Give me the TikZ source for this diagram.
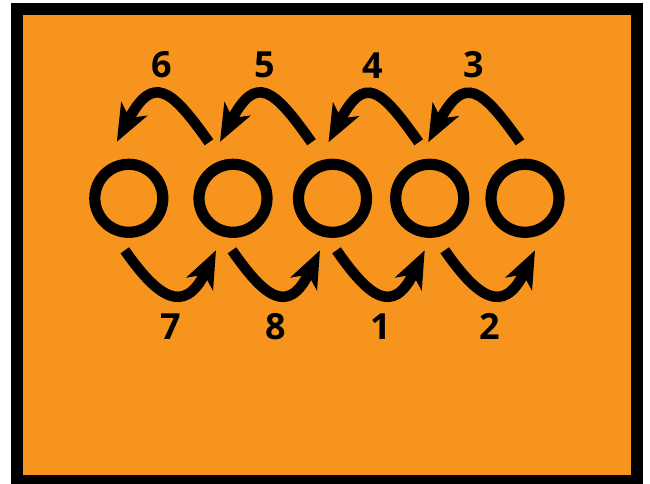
\documentclass[tikz,border=0pt]{standalone}
\usepackage{fontspec}
\setmainfont{Open Sans}
\usetikzlibrary{arrows.meta,calc}
\definecolor{panel}{HTML}{F7941D}
\tikzset{
  ring/.style={circle,draw=black,line width=11.2pt,minimum size=68pt,inner sep=0pt},
  hop/.style={-{Stealth[length=37pt,width=29pt,inset=10pt]},draw=black,line width=10.5pt},
  num/.style={font=\bfseries\fontsize{36}{36}\selectfont,inner sep=0pt},
}

\begin{document}
\begin{tikzpicture}[x=1pt,y=1pt]
\useasboundingbox (0,0) rectangle (650,484);
\draw[line width=12pt,fill=panel] (17,3.3) rectangle (636.5,475);
% the five rings
\node[ring] (c1) at (128.8,285.7) {};
\node[ring] (c2) at (233,285.7) {};
\node[ring] (c3) at (332.5,285.7) {};
\node[ring] (c4) at (429.7,285.7) {};
\node[ring] (c5) at (525,285.7) {};
% hops over the top, right to left
\draw[hop] ($(c5)+(-5,56)$) .. controls +(-38,54) and +(36,68) .. ($(c4)+(-1.5,56)$) node[num,midway,above=13pt] {3};
\draw[hop] ($(c4)+(-11,56)$) .. controls +(-38,54) and +(36,68) .. ($(c3)+(-4,56)$) node[num,midway,above=13pt] {4};
\draw[hop] ($(c3)+(-21,56)$) .. controls +(-38,54) and +(36,68) .. ($(c2)+(-13,56.5)$) node[num,midway,above=13pt] {5};
\draw[hop] ($(c2)+(-24,56)$) .. controls +(-38,54) and +(36,68) .. ($(c1)+(-12,56.5)$) node[num,midway,above=13pt] {6};
% hops underneath, left to right
\draw[hop] ($(c1)+(-4,-52)$) .. controls +(32,-46) and +(-32,-66) .. ($(c2)+(-17,-52)$) node[num,midway,below=16pt] {7};
\draw[hop] ($(c2)+(-1,-52)$) .. controls +(32,-46) and +(-32,-66) .. ($(c3)+(-12.5,-52)$) node[num,midway,below=16pt] {8};
\draw[hop] ($(c3)+(4,-52)$) .. controls +(32,-46) and +(-32,-66) .. ($(c4)+(-5,-52)$) node[num,midway,below=16pt] {1};
\draw[hop] ($(c4)+(15,-52)$) .. controls +(32,-46) and +(-32,-66) .. ($(c5)+(10,-52)$) node[num,midway,below=16pt] {2};
\end{tikzpicture}
\end{document}
